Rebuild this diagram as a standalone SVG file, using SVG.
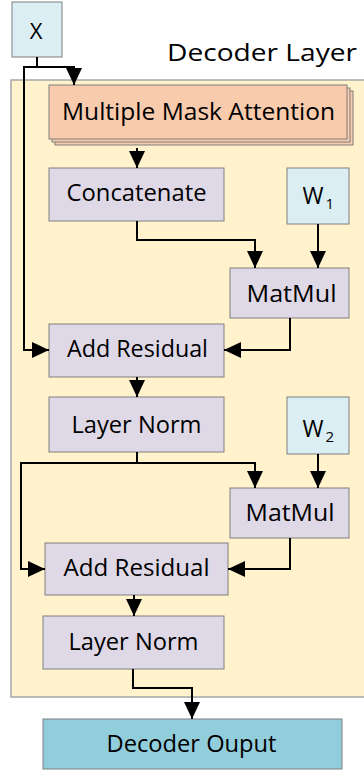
<svg xmlns="http://www.w3.org/2000/svg" width="364" height="773" viewBox="0 0 364 773">
<defs>
<style>
.box{stroke:#7f7f7f;stroke-width:1}
.op{fill:#dfd8e6}
.w{fill:#daeef3}
.mma{fill:#f8cbad}
.t{font-family:"Open Sans","Liberation Sans",sans-serif;font-size:24px;font-weight:500;fill:#000}
.c{fill:none;stroke:#000;stroke-width:2}
</style>
<marker id="ah" markerUnits="userSpaceOnUse" markerWidth="17" markerHeight="16" viewBox="0 0 17 16" refX="17" refY="8" orient="auto">
<path d="M0,0 L17,8 L0,16 Z" fill="#000"/>
</marker>
</defs>
<rect width="364" height="773" fill="#fff"/>
<g id="decoder-layer">
<rect x="11" y="80" width="360" height="617" fill="#fff2cc" stroke="#a6a6a6" stroke-width="1.5"/>
<text class="t" x="167" y="60.5" textLength="190" lengthAdjust="spacingAndGlyphs">Decoder Layer</text>
</g>
<g id="x">
<rect class="box w" x="12" y="2" width="50" height="55"/>
<text class="t" x="36" y="38.5" text-anchor="middle" style="font-size:22px">X</text>
</g>
<g id="mma">
<rect class="box mma" x="55" y="91" width="298" height="54"/>
<rect class="box mma" x="52" y="88" width="298" height="54"/>
<rect class="box mma" x="49" y="85" width="298" height="54"/>
<text class="t" x="62" y="120" textLength="273" lengthAdjust="spacingAndGlyphs">Multiple Mask Attention</text>
</g>
<g id="concat">
<rect class="box op" x="49" y="168" width="175" height="53"/>
<text class="t" x="66.5" y="201" textLength="140" lengthAdjust="spacingAndGlyphs">Concatenate</text>
</g>
<g id="w1">
<rect class="box w" x="287" y="168" width="62" height="56"/>
<text class="t" x="302.5" y="203.5" style="font-size:23px"><tspan textLength="21" lengthAdjust="spacingAndGlyphs">W</tspan><tspan dx="2" dy="5" style="font-size:15px">1</tspan></text>
</g>
<g id="matmul1">
<rect class="box op" x="230" y="268" width="119" height="50"/>
<text class="t" x="246.5" y="301.5" textLength="90" lengthAdjust="spacingAndGlyphs">MatMul</text>
</g>
<g id="add1">
<rect class="box op" x="49" y="324" width="175" height="53"/>
<text class="t" x="67" y="357" textLength="141" lengthAdjust="spacingAndGlyphs">Add Residual</text>
</g>
<g id="norm1">
<rect class="box op" x="49" y="397" width="175" height="55"/>
<text class="t" x="71.5" y="432.5" textLength="130" lengthAdjust="spacingAndGlyphs">Layer Norm</text>
</g>
<g id="w2">
<rect class="box w" x="287" y="397" width="62" height="57"/>
<text class="t" x="302.5" y="436.5" style="font-size:23px"><tspan textLength="21" lengthAdjust="spacingAndGlyphs">W</tspan><tspan dx="2" dy="5" style="font-size:15px">2</tspan></text>
</g>
<g id="matmul2">
<rect class="box op" x="230" y="488" width="119" height="50"/>
<text class="t" x="245.5" y="521" textLength="89" lengthAdjust="spacingAndGlyphs">MatMul</text>
</g>
<g id="add2">
<rect class="box op" x="45" y="543" width="183" height="52"/>
<text class="t" x="63.5" y="575.5" textLength="146" lengthAdjust="spacingAndGlyphs">Add Residual</text>
</g>
<g id="norm2">
<rect class="box op" x="43" y="616" width="181" height="53"/>
<text class="t" x="68.5" y="649.5" textLength="130" lengthAdjust="spacingAndGlyphs">Layer Norm</text>
</g>
<g id="output">
<rect x="43" y="719" width="299" height="50" fill="#92cddc" stroke="#7f7f7f" stroke-width="1"/>
<text class="t" x="106.5" y="752" textLength="170" lengthAdjust="spacingAndGlyphs">Decoder Ouput</text>
</g>
<g id="connectors">
<path class="c" d="M37,57 V67 H74 V85" marker-end="url(#ah)"/>
<path class="c" d="M37,67 H24 V350 H49" marker-end="url(#ah)"/>
<path class="c" d="M137,148 V168" marker-end="url(#ah)"/>
<path class="c" d="M137,221 V240 H255 V268" marker-end="url(#ah)"/>
<path class="c" d="M318,224 V268" marker-end="url(#ah)"/>
<path class="c" d="M290,318 V350 H224" marker-end="url(#ah)"/>
<path class="c" d="M137,377 V397" marker-end="url(#ah)"/>
<path class="c" d="M137,452 V463 H255 V488" marker-end="url(#ah)"/>
<path class="c" d="M137,463 H21 V569 H45" marker-end="url(#ah)"/>
<path class="c" d="M318,454 V488" marker-end="url(#ah)"/>
<path class="c" d="M290,538 V569 H228" marker-end="url(#ah)"/>
<path class="c" d="M134,595 V616" marker-end="url(#ah)"/>
<path class="c" d="M133,669 V688 H192 V719" marker-end="url(#ah)"/>
</g>
</svg>
